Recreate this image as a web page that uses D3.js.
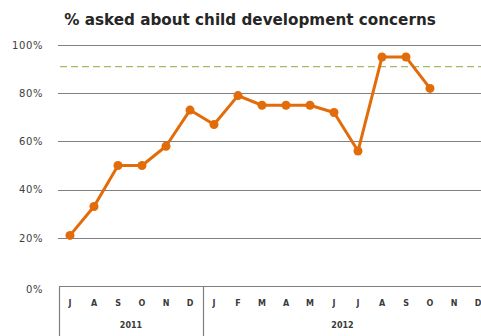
<!DOCTYPE html>
<html>
<head>
<meta charset="utf-8">
<script src="https://cdn.jsdelivr.net/npm/d3@7/dist/d3.min.js"></script>
<style>
  html, body { margin: 0; padding: 0; background: #fff; }
  svg { display: block; }
</style>
</head>
<body>
<svg id="chart" width="481" height="336"></svg>
<script>
// Month initials on the category axis (Jul 2011 - Dec 2012)
const months = ["J","A","S","O","N","D","J","F","M","A","M","J","J","A","S","O","N","D"];
// Year groups: label and number of months covered
const yearLabels = ["2011", "2012"];
const yearSpans = [6, 12];
// Share of visits where child development concerns were asked about (%)
const asked = [21, 33, 50, 50, 58, 73, 67, 79, 75, 75, 75, 72, 56, 95, 95, 82, null, null];
// Target level (%)
const target = [91];
// Value axis ticks (%)
const yTicks = [0, 20, 40, 60, 80, 100];

const W = 481, H = 336;
const svg = d3.select("#chart");

const plotLeft = 58, band = 24;
const x = d3.scaleBand()
  .domain(d3.range(months.length))
  .range([plotLeft, plotLeft + band * months.length])
  .padding(0);
const y = d3.scaleLinear().domain([0, 100]).range([286, 45]);

const sans = "'DejaVu Sans', Verdana, sans-serif";

// Title
svg.append("text")
  .attr("x", 250).attr("y", 25)
  .attr("text-anchor", "middle")
  .attr("font-family", sans)
  .attr("font-weight", "bold")
  .attr("font-size", 15.2)
  .attr("fill", "#262626")
  .text("% asked about child development concerns");

// Horizontal gridlines
svg.append("g")
  .selectAll("line")
  .data(yTicks.filter(t => t > 0))
  .join("line")
  .attr("x1", plotLeft).attr("x2", W)
  .attr("y1", d => Math.round(y(d)) + 0.5)
  .attr("y2", d => Math.round(y(d)) + 0.5)
  .attr("stroke", "#808080")
  .attr("stroke-width", 1.2);

// Value axis labels
const yAxis = d3.axisLeft(y)
  .tickValues(yTicks)
  .tickFormat(d => d + "%")
  .tickSize(0)
  .tickPadding(0);
const gy = svg.append("g")
  .attr("transform", `translate(43,0)`)
  .call(yAxis);
gy.select(".domain").remove();
gy.selectAll("text")
  .attr("font-family", sans)
  .attr("font-size", 10)
  .attr("letter-spacing", 0.6)
  .attr("fill", "#404040");
gy.selectAll(".tick").filter(d => d === 0).select("text").attr("dy", "0.6em");

// Category axis: baseline and group separators
const axisY = Math.round(y(0)) + 0.5;
svg.append("line")
  .attr("x1", plotLeft + 1).attr("x2", W)
  .attr("y1", axisY).attr("y2", axisY)
  .attr("stroke", "#7f7f7f").attr("stroke-width", 1.2);

let acc = 0;
const groupEdges = [0];
yearSpans.forEach(s => { acc += s; groupEdges.push(acc); });
svg.append("g")
  .selectAll("line")
  .data(groupEdges.slice(0, -1))
  .join("line")
  .attr("x1", d => Math.round(x(d) ?? plotLeft) + 1.5)
  .attr("x2", d => Math.round(x(d) ?? plotLeft) + 1.5)
  .attr("y1", axisY).attr("y2", H)
  .attr("stroke", "#7f7f7f").attr("stroke-width", 1.2);

// Month initials
const xAxis = d3.axisBottom(x)
  .tickFormat(i => months[i])
  .tickSize(0)
  .tickPadding(0);
const gx = svg.append("g")
  .attr("transform", `translate(0,${axisY})`)
  .call(xAxis);
gx.select(".domain").remove();
gx.selectAll("text")
  .attr("y", 17)
  .attr("dy", "0.35em")
  .attr("font-family", sans)
  .attr("font-weight", "bold")
  .attr("font-size", 8)
  .attr("fill", "#3a3a3a");

// Year labels, centred on the visible part of each group
svg.append("g")
  .selectAll("text")
  .data(yearLabels)
  .join("text")
  .attr("x", (d, i) => {
    const a = x(groupEdges[i]);
    const b = Math.min(W, plotLeft + band * groupEdges[i + 1]);
    return (a + b) / 2 + 1;
  })
  .attr("y", 328)
  .attr("text-anchor", "middle")
  .attr("font-family", sans)
  .attr("font-weight", "bold")
  .attr("font-size", 8)
  .attr("fill", "#3a3a3a")
  .text(d => d);

// Target line
svg.append("g")
  .selectAll("line")
  .data(target)
  .join("line")
  .attr("x1", plotLeft + 2).attr("x2", W)
  .attr("y1", d => y(d)).attr("y2", d => y(d))
  .attr("stroke", "#a3bb63")
  .attr("stroke-width", 1.3)
  .attr("stroke-dasharray", "7,4");

// Series line and markers
const cx = i => x(i) + x.bandwidth() / 2;
const line = d3.line()
  .defined(d => d != null)
  .x((d, i) => cx(i))
  .y(d => y(d));

const orange = "#e36c0a";
svg.append("path")
  .datum(asked)
  .attr("d", line)
  .attr("fill", "none")
  .attr("stroke", orange)
  .attr("stroke-width", 3)
  .attr("stroke-linejoin", "round");

svg.append("g")
  .selectAll("circle")
  .data(asked.map((v, i) => ({ v, i })).filter(d => d.v != null))
  .join("circle")
  .attr("cx", d => cx(d.i))
  .attr("cy", d => y(d.v))
  .attr("r", 4.5)
  .attr("fill", orange);
</script>
</body>
</html>
